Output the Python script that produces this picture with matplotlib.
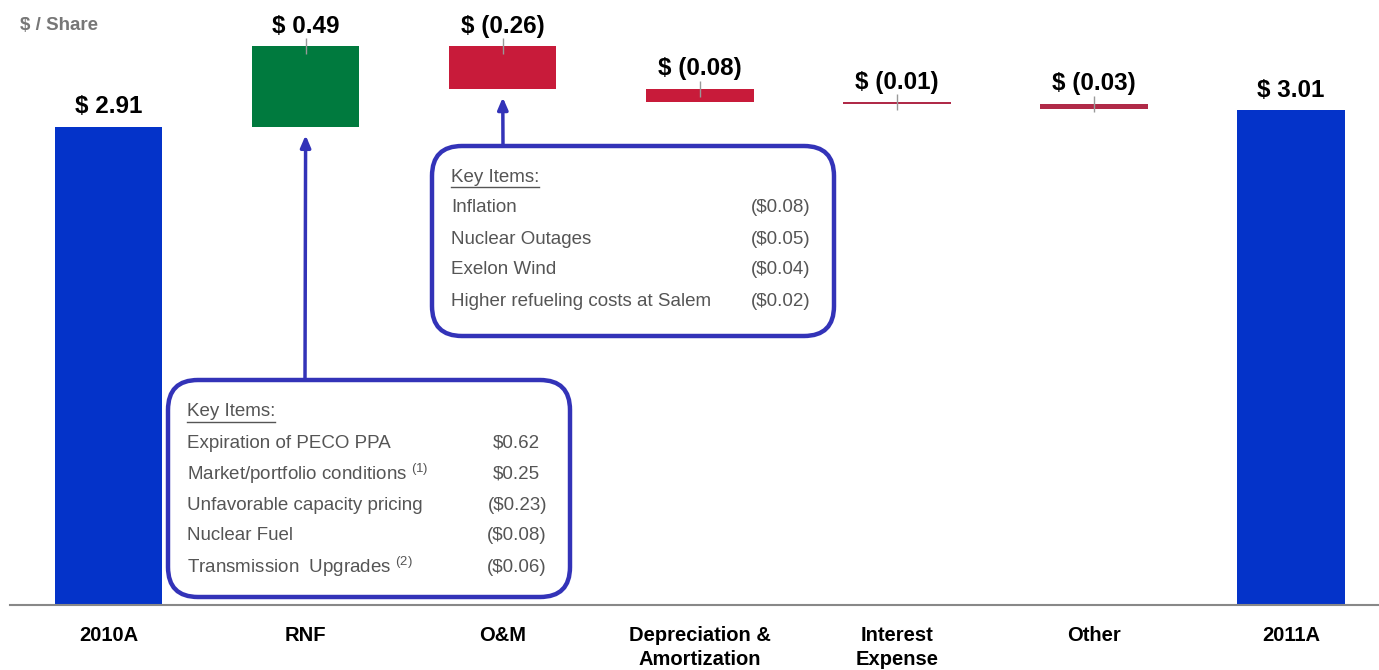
import matplotlib.pyplot as plt
from matplotlib.patches import FancyBboxPatch
from matplotlib.lines import Line2D

plt.rcParams['font.family'] = ['Liberation Sans', 'DejaVu Sans']
plt.rcParams['mathtext.fontset'] = 'custom'
plt.rcParams['mathtext.rm'] = 'Liberation Sans'

# data
categories = ['2010A', 'RNF', 'O&M', 'Depreciation &\nAmortization', 'Interest\nExpense', 'Other', '2011A']
values = [2.91, 0.49, -0.26, -0.08, -0.01, -0.03, 3.01]
labels = ['$ 2.91', '$ 0.49', '$ (0.26)', '$ (0.08)', '$ (0.01)', '$ (0.03)', '$ 3.01']
is_total = [True, False, False, False, False, False, True]

rnf_items = ['Expiration of PECO PPA', 'Market/portfolio conditions $^{(1)}$',
             'Unfavorable capacity pricing', 'Nuclear Fuel', 'Transmission  Upgrades $^{(2)}$']
rnf_values = ['$0.62', '$0.25', '($0.23)', '($0.08)', '($0.06)']
om_items = ['Inflation', 'Nuclear Outages', 'Exelon Wind', 'Higher refueling costs at Salem']
om_values = ['($0.08)', '($0.05)', '($0.04)', '($0.02)']

BLUE = '#0433c9'
GREEN = '#007a3e'
RED = '#c81b3a'
BOX_BLUE = '#3333b8'
GREY_TXT = '#555555'

W, H = 1379, 670
fig = plt.figure(figsize=(W / 100, H / 100), dpi=100)
fig.patch.set_facecolor('white')

ax = fig.add_axes([10 / W, 65 / H, (W - 10) / W, 605 / H])
ax.set_xlim(-0.5, 6.446)
ax.set_ylim(0, 3.682)

# waterfall bars
running = 0.0
tops = []
for i, v in enumerate(values):
    if is_total[i]:
        bottom, height, col = 0, v, BLUE
        running = v
        top = v
    else:
        if v >= 0:
            bottom, height, col = running, v, GREEN
            top = running + v
        else:
            bottom, height, col = running + v, -v, RED
            top = running
        running += v
    if abs(v) < 0.05:
        col = '#b02a48'
    ax.bar(i, height, bottom=bottom, width=0.545, color=col, zorder=2)
    tops.append(top)
    if not is_total[i]:
        ax.plot(i, top, marker='|', ms=11, mew=1, color='#999999', zorder=3)
    ax.annotate(labels[i], (i, top), xytext=(0, 14.5), textcoords='offset points',
                ha='center', va='center', fontsize=17.5, fontweight='bold', color='black')

for s in ['top', 'right', 'left']:
    ax.spines[s].set_visible(False)
ax.spines['bottom'].set_color('#888888')
ax.spines['bottom'].set_linewidth(1.5)
ax.set_yticks([])
ax.set_xticks(range(len(categories)))
ax.set_xticklabels(categories, fontsize=14.5, fontweight='bold', linespacing=1.32, va='top')
ax.tick_params(axis='x', length=0, pad=15)

fig.text(20 / W, 1 - 26 / H, '$ / Share', fontsize=13.5, fontweight='bold', color='#777777',
         ha='left', va='center')

# overlay in pixel coords for callouts
ov = fig.add_axes([0, 0, 1, 1], facecolor='none')
ov.set_xlim(0, W)
ov.set_ylim(H, 0)
ov.axis('off')


def callout(x0, y0, x1, y1, title_y, items, vals, val_x, arrow_x, bar_idx, bar_base):
    ov.add_patch(FancyBboxPatch((x0, y0), x1 - x0, y1 - y0,
                                boxstyle='round,pad=0,rounding_size=30',
                                fc='white', ec=BOX_BLUE, lw=3.2, zorder=4))
    t = ov.text(x0 + 19, title_y, 'Key Items:', fontsize=13.5, color=GREY_TXT,
                ha='left', va='center', zorder=5)
    for k, (name, val) in enumerate(zip(items, vals)):
        yy = title_y + 31 * (k + 1)
        ov.text(x0 + 19, yy, name, fontsize=13.5, color=GREY_TXT, ha='left', va='center', zorder=5)
        xr = val_x if val.startswith('(') else val_x - 7
        ov.text(xr, yy, val, fontsize=13.5, color=GREY_TXT, ha='right', va='center', zorder=5)
    ov.annotate('', xy=(bar_idx, bar_base), xycoords=ax.transData,
                xytext=(arrow_x, y0), textcoords='data',
                arrowprops=dict(arrowstyle='-|>,head_length=0.7,head_width=0.3',
                                color=BOX_BLUE, lw=2.5, shrinkA=0, shrinkB=6), zorder=5)
    return t


t1 = callout(432, 146, 834, 336, 177, om_items, om_values, 810, 503, 2, tops[2] + values[2])
t2 = callout(168, 380, 570, 597, 412, rnf_items, rnf_values, 547, 305, 1, tops[1] - values[1])

fig.canvas.draw()
r = fig.canvas.get_renderer()
for t in (t1, t2):
    bb = t.get_window_extent(renderer=r)
    yb = bb.y0 - 1
    fig.add_artist(Line2D([bb.x0 / W, bb.x1 / W], [yb / H, yb / H], color=GREY_TXT, lw=1, zorder=6))

fig.savefig('out.png', dpi=100)
